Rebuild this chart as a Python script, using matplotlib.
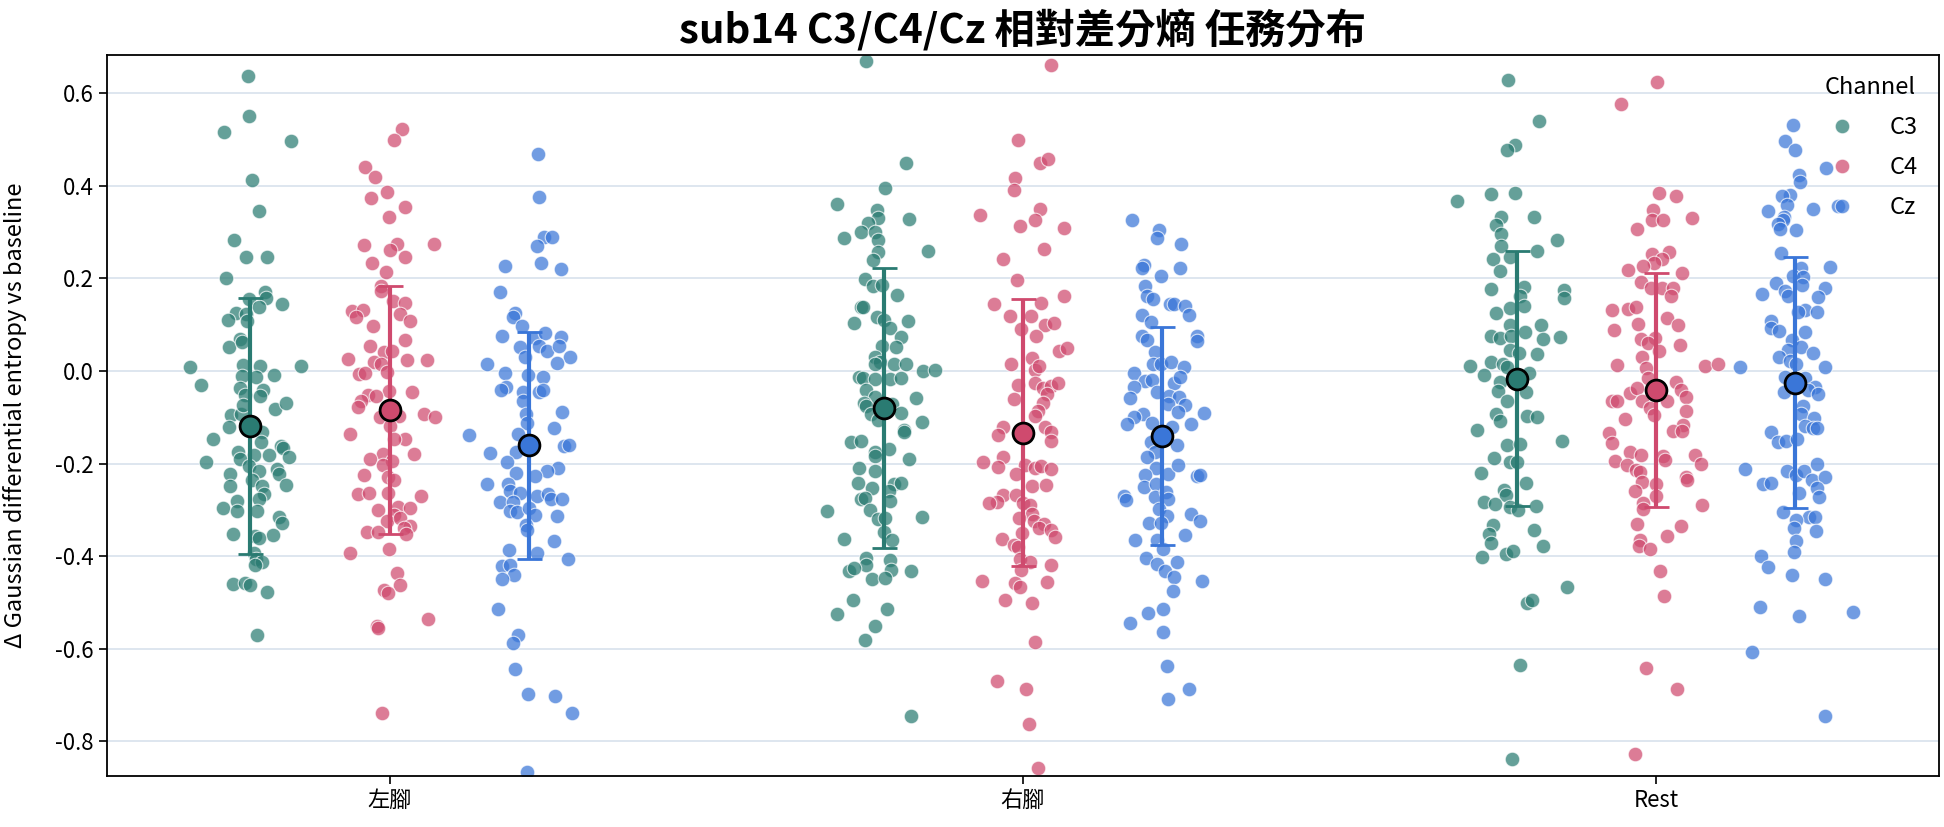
"""sub14 C3/C4/Cz relative differential entropy by task: strip + mean/SD."""

import matplotlib

matplotlib.use("Agg")
import matplotlib.pyplot as plt
from matplotlib.lines import Line2D
import numpy as np

plt.rcParams["font.family"] = ["Noto Sans CJK TC", "DejaVu Sans"]
plt.rcParams["axes.unicode_minus"] = False

CONDITIONS = ["左腳", "右腳", "Rest"]
CHANNELS = ["C3", "C4", "Cz"]
COLORS = {"C3": "#2a7b72", "C4": "#cf4a6e", "Cz": "#3a76d8"}
DODGE = {"C3": -0.22, "C4": 0.0, "Cz": 0.22}
YTICKS = [-0.8, -0.6, -0.4, -0.2, 0.0, 0.2, 0.4, 0.6]

# per-trial values (y) and strip jitter (dx, in category units)
c3_left_y = [0.637, 0.551, 0.515, 0.497, 0.413, 0.346, 0.282, 0.247, 0.245, 0.201,
             0.171, 0.145, 0.157, 0.156, 0.137, 0.126, 0.122, 0.110, 0.107, 0.068,
             0.052, 0.062, 0.009, 0.011, 0.013, 0.011, -0.031, -0.012, -0.014, -0.009,
             -0.036, -0.041, -0.052, -0.054, -0.082, -0.069, -0.096, -0.092, -0.074, -0.122,
             -0.147, -0.132, -0.153, -0.174, -0.162, -0.167, -0.197, -0.186, -0.182, -0.182,
             -0.190, -0.206, -0.216, -0.211, -0.222, -0.222, -0.236, -0.248, -0.246, -0.249,
             -0.265, -0.277, -0.281, -0.295, -0.302, -0.303, -0.316, -0.328, -0.352, -0.355,
             -0.357, -0.360, -0.393, -0.405, -0.413, -0.418, -0.460, -0.458, -0.462, -0.477,
             -0.571]
c3_left_dx = [-0.004, -0.002, -0.042, 0.064, 0.003, 0.014, -0.026, -0.007, 0.026, -0.038,
              0.023, 0.050, 0.024, -0.002, 0.013, -0.023, -0.007, -0.036, -0.005, -0.016,
              -0.034, -0.014, -0.095, 0.080, -0.011, 0.015, -0.078, -0.014, 0.009, 0.037,
              -0.017, 0.020, -0.008, 0.015, 0.039, 0.056, -0.030, -0.015, -0.012, -0.034,
              -0.059, 0.018, 0.016, -0.019, 0.048, 0.051, -0.070, 0.061, 0.005, 0.029,
              -0.017, -0.002, 0.013, 0.042, 0.045, -0.032, 0.002, -0.032, 0.056, 0.018,
              0.022, 0.014, -0.021, -0.044, -0.022, 0.010, 0.045, 0.050, -0.027, 0.035,
              0.007, 0.013, 0.005, 0.009, 0.018, 0.007, -0.027, -0.009, -0.001, 0.026,
              0.010]

c4_left_y = [0.523, 0.499, 0.441, 0.419, 0.386, 0.374, 0.353, 0.332, 0.271, 0.275,
             0.275, 0.262, 0.245, 0.232, 0.214, 0.184, 0.172, 0.150, 0.146, 0.129,
             0.132, 0.117, 0.122, 0.108, 0.096, 0.066, 0.054, 0.026, 0.041, 0.043,
             0.019, 0.016, 0.023, 0.023, -0.007, -0.004, -0.002, -0.046, -0.044, -0.052,
             -0.055, -0.066, -0.078, -0.092, -0.099, -0.099, -0.097, -0.119, -0.136, -0.147,
             -0.147, -0.179, -0.179, -0.190, -0.194, -0.204, -0.224, -0.229, -0.236, -0.265,
             -0.263, -0.263, -0.270, -0.300, -0.293, -0.295, -0.310, -0.325, -0.317, -0.335,
             -0.340, -0.347, -0.347, -0.352, -0.394, -0.385, -0.437, -0.463, -0.472, -0.480,
             -0.536, -0.550, -0.555, -0.739]
c4_left_dx = [0.019, 0.007, -0.039, -0.023, -0.004, -0.029, 0.024, -0.001, -0.041, 0.012,
              0.070, 0.001, 0.024, -0.028, -0.006, -0.014, -0.013, 0.005, 0.024, -0.059,
              -0.042, -0.053, 0.017, 0.032, -0.026, 0.024, -0.031, -0.066, -0.009, 0.003,
              -0.025, -0.014, 0.027, 0.059, -0.048, -0.039, -0.004, 0.035, -0.001, -0.035,
              -0.022, -0.045, -0.050, 0.054, 0.072, -0.016, 0.014, 0.000, -0.062, 0.024,
              0.007, 0.038, -0.011, -0.031, 0.003, -0.011, -0.041, -0.003, 0.007, -0.050,
              -0.033, -0.003, 0.049, -0.018, 0.013, 0.032, 0.007, -0.004, 0.016, 0.032,
              0.022, -0.036, -0.018, 0.026, -0.063, -0.001, 0.011, 0.017, -0.009, -0.003,
              0.061, -0.020, -0.018, -0.012]

cz_left_y = [0.469, 0.376, 0.290, 0.290, 0.269, 0.226, 0.234, 0.219, 0.170, 0.125,
             0.117, 0.097, 0.076, 0.071, 0.081, 0.054, 0.044, 0.073, 0.054, 0.051,
             0.029, 0.016, 0.029, 0.018, -0.004, -0.008, -0.014, -0.034, -0.041, -0.046,
             -0.046, -0.042, -0.066, -0.094, -0.112, -0.089, -0.124, -0.139, -0.136, -0.162,
             -0.159, -0.174, -0.177, -0.197, -0.209, -0.217, -0.221, -0.227, -0.245, -0.244,
             -0.260, -0.264, -0.271, -0.266, -0.276, -0.276, -0.283, -0.283, -0.302, -0.305,
             -0.295, -0.312, -0.313, -0.333, -0.343, -0.368, -0.386, -0.393, -0.405, -0.421,
             -0.420, -0.440, -0.450, -0.515, -0.571, -0.588, -0.643, -0.698, -0.701, -0.739,
             -0.866]
cz_left_dx = [0.014, 0.016, 0.024, 0.037, 0.012, -0.038, 0.019, 0.051, -0.046, -0.022,
              -0.025, -0.011, -0.043, 0.010, 0.025, 0.016, 0.028, 0.051, 0.047, -0.014,
              0.065, -0.066, -0.006, 0.045, -0.038, -0.002, 0.022, -0.036, -0.045, -0.009,
              0.016, 0.022, -0.009, -0.005, -0.003, 0.052, 0.040, -0.095, -0.017, 0.055,
              0.063, -0.020, -0.062, -0.035, 0.046, 0.028, -0.021, 0.009, -0.067, -0.033,
              -0.030, -0.014, 0.013, 0.030, 0.034, 0.052, -0.046, -0.025, -0.030, -0.019,
              0.000, 0.010, 0.044, -0.005, -0.003, 0.040, -0.032, 0.012, 0.062, -0.043,
              -0.030, -0.024, -0.043, -0.049, -0.017, -0.025, -0.022, -0.002, 0.041, 0.068,
              -0.003]

c3_right_y = [0.670, 0.450, 0.395, 0.361, 0.347, 0.331, 0.319, 0.327, 0.299, 0.299,
              0.288, 0.282, 0.257, 0.260, 0.239, 0.199, 0.183, 0.185, 0.165, 0.138,
              0.137, 0.107, 0.103, 0.117, 0.109, 0.093, 0.073, 0.054, 0.051, 0.031,
              0.019, 0.014, 0.016, 0.014, -0.001, 0.001, -0.014, -0.016, -0.017, -0.018,
              -0.016, -0.042, -0.056, -0.069, -0.076, -0.072, -0.059, -0.092, -0.090, -0.106,
              -0.111, -0.128, -0.132, -0.153, -0.151, -0.174, -0.169, -0.184, -0.190, -0.209,
              -0.215, -0.242, -0.253, -0.244, -0.241, -0.259, -0.277, -0.275, -0.281, -0.302,
              -0.300, -0.320, -0.318, -0.315, -0.363, -0.348, -0.365, -0.403, -0.408, -0.418,
              -0.432, -0.425, -0.430, -0.431, -0.450, -0.447, -0.495, -0.513, -0.525, -0.550,
              -0.581, -0.746]
c3_right_dx = [-0.027, 0.036, 0.003, -0.074, -0.011, -0.008, -0.025, 0.040, -0.035, -0.013,
               -0.062, -0.009, -0.008, 0.070, -0.017, -0.030, -0.016, -0.003, 0.022, -0.036,
               -0.033, 0.038, -0.047, -0.011, 0.000, 0.010, 0.027, -0.003, 0.019, -0.014,
               -0.005, -0.014, 0.016, 0.036, 0.063, 0.082, -0.039, -0.033, -0.013, 0.010,
               0.028, -0.028, -0.013, -0.031, -0.027, 0.013, 0.052, -0.020, 0.028, -0.008,
               0.060, 0.032, 0.033, -0.051, -0.035, -0.013, 0.008, -0.014, 0.040, -0.038,
               -0.014, -0.041, -0.019, 0.016, 0.028, 0.008, -0.035, -0.030, 0.010, -0.090,
               -0.022, -0.008, 0.003, 0.061, -0.063, 0.000, 0.013, -0.028, 0.010, -0.027,
               -0.055, -0.047, 0.011, 0.044, -0.019, 0.002, -0.049, 0.006, -0.073, -0.014,
               -0.030, 0.044]

c4_right_y = [0.661, 0.499, 0.448, 0.458, 0.417, 0.390, 0.336, 0.349, 0.325, 0.313,
              0.308, 0.263, 0.241, 0.197, 0.161, 0.144, 0.147, 0.119, 0.119, 0.091,
              0.100, 0.103, 0.076, 0.044, 0.049, 0.016, 0.028, 0.003, 0.011, -0.031,
              -0.027, -0.036, -0.032, -0.026, -0.061, -0.049, -0.069, -0.086, -0.097, -0.122,
              -0.139, -0.121, -0.132, -0.151, -0.186, -0.197, -0.207, -0.204, -0.209, -0.205,
              -0.211, -0.222, -0.249, -0.246, -0.268, -0.283, -0.285, -0.267, -0.286, -0.289,
              -0.308, -0.317, -0.325, -0.330, -0.340, -0.343, -0.358, -0.350, -0.362, -0.375,
              -0.380, -0.405, -0.412, -0.418, -0.430, -0.453, -0.457, -0.467, -0.455, -0.495,
              -0.502, -0.585, -0.669, -0.686, -0.763, -0.857]
c4_right_dx = [0.044, -0.007, 0.027, 0.039, -0.012, -0.014, -0.067, 0.027, 0.019, -0.004,
               0.065, 0.034, -0.031, -0.009, 0.065, -0.046, 0.029, -0.020, 0.013, -0.003,
               0.035, 0.049, 0.021, 0.057, 0.069, -0.018, 0.014, 0.019, 0.026, -0.007,
               0.019, 0.032, 0.045, 0.055, -0.014, 0.038, 0.032, 0.024, 0.020, -0.031,
               -0.040, 0.035, 0.045, 0.045, -0.031, -0.063, -0.039, 0.003, 0.019, 0.028,
               0.045, -0.011, 0.014, 0.037, -0.031, -0.041, -0.054, -0.011, 0.000, 0.012,
               0.014, -0.006, 0.018, 0.034, 0.026, 0.045, 0.051, -0.001, -0.033, -0.014,
               -0.007, -0.004, 0.012, 0.045, -0.003, -0.064, -0.012, -0.004, 0.038, -0.028,
               0.015, 0.020, -0.041, 0.005, 0.010, 0.024]

cz_right_y = [0.325, 0.305, 0.286, 0.275, 0.229, 0.222, 0.222, 0.205, 0.183, 0.161,
              0.155, 0.145, 0.145, 0.140, 0.120, 0.120, 0.105, 0.076, 0.066, 0.076,
              0.064, 0.040, 0.016, 0.016, 0.019, 0.009, -0.005, -0.022, -0.019, -0.027,
              -0.014, -0.034, -0.046, -0.054, -0.056, -0.059, -0.072, -0.074, -0.089, -0.090,
              -0.094, -0.099, -0.115, -0.112, -0.114, -0.121, -0.154, -0.176, -0.160, -0.186,
              -0.209, -0.222, -0.204, -0.227, -0.224, -0.224, -0.251, -0.244, -0.269, -0.279,
              -0.272, -0.262, -0.276, -0.299, -0.314, -0.309, -0.325, -0.329, -0.329, -0.365,
              -0.365, -0.355, -0.385, -0.403, -0.417, -0.431, -0.413, -0.445, -0.453, -0.475,
              -0.523, -0.515, -0.545, -0.563, -0.637, -0.686, -0.708]
cz_right_dx = [-0.047, -0.005, -0.008, 0.030, -0.028, -0.032, 0.028, -0.002, -0.027, -0.024,
               -0.014, 0.013, 0.019, 0.036, 0.043, -0.032, -0.017, -0.032, -0.024, 0.055,
               0.055, -0.011, -0.014, -0.002, 0.014, 0.035, -0.044, -0.027, -0.016, 0.018,
               0.028, -0.044, -0.008, 0.011, 0.027, -0.051, 0.009, 0.036, 0.025, 0.066,
               -0.030, -0.044, -0.055, -0.016, 0.046, 0.016, -0.017, -0.011, 0.023, -0.024,
               -0.009, 0.009, 0.025, 0.055, 0.060, -0.027, -0.028, -0.009, -0.060, -0.057,
               -0.011, 0.006, 0.009, -0.005, 0.008, 0.046, 0.060, -0.021, -0.002, -0.043,
               -0.008, 0.036, 0.002, -0.025, -0.008, 0.005, 0.024, 0.019, 0.063, 0.017,
               -0.022, 0.002, -0.051, 0.002, 0.008, 0.043, 0.009]

c3_rest_y = [0.628, 0.540, 0.487, 0.478, 0.367, 0.382, 0.385, 0.333, 0.333, 0.315,
             0.295, 0.282, 0.269, 0.260, 0.242, 0.245, 0.215, 0.177, 0.182, 0.175,
             0.157, 0.162, 0.140, 0.135, 0.125, 0.100, 0.099, 0.068, 0.073, 0.076,
             0.071, 0.076, 0.084, 0.046, 0.038, 0.036, 0.011, 0.020, 0.016, -0.008,
             0.009, -0.004, -0.024, -0.044, -0.066, -0.046, -0.092, -0.109, -0.097, -0.099,
             -0.127, -0.159, -0.157, -0.151, -0.187, -0.196, -0.197, -0.220, -0.242, -0.257,
             -0.267, -0.283, -0.288, -0.293, -0.300, -0.291, -0.333, -0.353, -0.372, -0.343,
             -0.377, -0.401, -0.395, -0.388, -0.466, -0.500, -0.494, -0.634, -0.838]
c3_rest_dx = [-0.014, 0.035, -0.003, -0.016, -0.095, -0.041, -0.003, -0.024, 0.028, -0.033,
              -0.025, 0.063, -0.025, 0.032, -0.038, -0.011, -0.027, -0.041, 0.011, 0.074,
              0.074, 0.005, 0.011, -0.011, -0.033, -0.011, 0.038, 0.041, 0.069, -0.041,
              -0.027, -0.009, 0.013, -0.011, 0.003, 0.032, -0.073, -0.041, -0.022, -0.051,
              -0.016, 0.019, -0.027, -0.030, -0.016, 0.015, -0.033, -0.027, 0.016, 0.032,
              -0.063, -0.016, 0.005, 0.071, -0.036, -0.011, 0.000, -0.057, 0.014, -0.020,
              -0.017, -0.052, -0.035, -0.011, 0.002, 0.031, -0.038, -0.044, -0.040, 0.027,
              0.041, -0.054, -0.017, -0.005, 0.079, 0.016, 0.024, 0.006, -0.008]

c4_rest_y = [0.624, 0.577, 0.385, 0.378, 0.347, 0.326, 0.325, 0.331, 0.307, 0.257,
             0.252, 0.241, 0.232, 0.217, 0.227, 0.212, 0.193, 0.180, 0.180, 0.178,
             0.161, 0.131, 0.133, 0.137, 0.101, 0.114, 0.099, 0.089, 0.069, 0.072,
             0.057, 0.061, 0.031, 0.043, 0.013, 0.006, 0.011, 0.016, -0.016, -0.048,
             -0.036, -0.024, -0.042, -0.064, -0.064, -0.066, -0.064, -0.057, -0.079, -0.086,
             -0.096, -0.104, -0.117, -0.130, -0.129, -0.134, -0.155, -0.174, -0.182, -0.183,
             -0.192, -0.181, -0.194, -0.204, -0.214, -0.219, -0.200, -0.230, -0.236, -0.239,
             -0.245, -0.260, -0.270, -0.286, -0.299, -0.290, -0.335, -0.330, -0.356, -0.365,
             -0.377, -0.385, -0.433, -0.485, -0.641, -0.686, -0.828]
c4_rest_dx = [0.002, -0.055, 0.005, 0.032, -0.005, -0.006, 0.011, 0.057, -0.030, 0.020,
              -0.006, 0.009, -0.003, -0.044, -0.020, 0.041, -0.023, -0.008, 0.009, 0.027,
              0.024, -0.070, -0.044, -0.032, -0.028, 0.018, 0.035, -0.067, -0.023, -0.001,
              0.038, -0.013, -0.022, 0.005, -0.062, -0.016, 0.077, 0.098, -0.013, -0.041,
              -0.030, 0.032, 0.040, -0.070, -0.062, -0.022, 0.018, 0.047, -0.009, 0.047,
              -0.003, -0.049, 0.043, 0.027, 0.041, -0.074, -0.070, -0.041, -0.023, 0.011,
              0.014, 0.061, -0.064, -0.046, -0.032, -0.025, 0.071, 0.047, 0.049, -0.022,
              0.000, -0.033, 0.000, -0.021, -0.020, 0.073, 0.040, -0.030, 0.017, -0.025,
              -0.027, -0.009, 0.006, 0.013, -0.016, 0.033, -0.033]

cz_rest_y = [0.530, 0.497, 0.478, 0.438, 0.422, 0.407, 0.380, 0.377, 0.359, 0.357,
             0.345, 0.350, 0.332, 0.325, 0.317, 0.307, 0.305, 0.255, 0.224, 0.222,
             0.205, 0.202, 0.189, 0.185, 0.180, 0.167, 0.172, 0.162, 0.159, 0.132,
             0.127, 0.127, 0.107, 0.092, 0.087, 0.083, 0.066, 0.051, 0.046, 0.038,
             0.029, 0.021, 0.016, 0.008, 0.008, -0.014, -0.016, -0.034, -0.046, -0.042,
             -0.049, -0.076, -0.092, -0.101, -0.119, -0.124, -0.124, -0.132, -0.154, -0.151,
             -0.146, -0.212, -0.216, -0.224, -0.217, -0.202, -0.236, -0.229, -0.244, -0.242,
             -0.252, -0.264, -0.273, -0.305, -0.315, -0.315, -0.321, -0.340, -0.345, -0.367,
             -0.391, -0.399, -0.423, -0.440, -0.449, -0.509, -0.529, -0.520, -0.606, -0.744]
cz_rest_dx = [-0.003, -0.016, 0.000, 0.049, 0.006, 0.007, -0.009, -0.021, -0.013, 0.068,
              -0.043, 0.028, -0.017, -0.019, -0.027, -0.024, 0.002, -0.022, 0.055, 0.009,
              -0.003, 0.013, -0.030, 0.011, 0.047, -0.052, -0.016, -0.011, 0.036, 0.016,
              0.035, 0.004, -0.039, -0.038, -0.025, 0.016, -0.005, 0.009, -0.011, 0.028,
              -0.025, -0.009, 0.002, -0.087, 0.047, -0.016, 0.016, 0.032, -0.017, 0.020,
              0.036, 0.013, 0.009, 0.030, 0.016, 0.028, 0.035, -0.039, -0.028, -0.014,
              0.003, -0.079, -0.013, 0.002, 0.014, 0.035, 0.026, 0.047, -0.051, -0.039,
              0.035, 0.006, 0.038, -0.019, 0.022, 0.032, 0.002, -0.002, 0.033, 0.002,
              -0.002, -0.054, -0.043, -0.005, 0.047, -0.055, 0.006, 0.091, -0.068, 0.047]

mean_c3 = [-0.119, -0.080, -0.017]
mean_c4 = [-0.084, -0.133, -0.041]
mean_cz = [-0.160, -0.141, -0.026]
sd_c3 = [0.276, 0.302, 0.275]
sd_c4 = [0.268, 0.288, 0.253]
sd_cz = [0.245, 0.235, 0.271]

POINTS = {
    ("左腳", "C3"): (c3_left_y, c3_left_dx),
    ("左腳", "C4"): (c4_left_y, c4_left_dx),
    ("左腳", "Cz"): (cz_left_y, cz_left_dx),
    ("右腳", "C3"): (c3_right_y, c3_right_dx),
    ("右腳", "C4"): (c4_right_y, c4_right_dx),
    ("右腳", "Cz"): (cz_right_y, cz_right_dx),
    ("Rest", "C3"): (c3_rest_y, c3_rest_dx),
    ("Rest", "C4"): (c4_rest_y, c4_rest_dx),
    ("Rest", "Cz"): (cz_rest_y, cz_rest_dx),
}
MEANS = {"C3": mean_c3, "C4": mean_c4, "Cz": mean_cz}
SDS = {"C3": sd_c3, "C4": sd_c4, "Cz": sd_cz}

fig = plt.figure(figsize=(19.44, 8.27), dpi=100)
ax = fig.add_axes([0.0549, 0.0617, 0.9425, 0.8723])

for ci, cond in enumerate(CONDITIONS):
    for ch in CHANNELS:
        y, dx = POINTS[(cond, ch)]
        x = ci + DODGE[ch] + np.asarray(dx)
        ax.scatter(x, y, s=110, color=COLORS[ch], alpha=0.72, edgecolors="white",
                   linewidths=0.8, zorder=2)
        xm = ci + DODGE[ch]
        ax.errorbar(xm, MEANS[ch][ci], yerr=SDS[ch][ci], color=COLORS[ch], lw=3,
                    capsize=9, capthick=2, zorder=3)
        ax.plot(xm, MEANS[ch][ci], "o", ms=15, mfc=COLORS[ch], mec="black",
                mew=2, zorder=4)

ax.set_xlim(-0.447, 2.447)
ax.set_ylim(-0.8745, 0.683)
ax.set_xticks(range(len(CONDITIONS)))
ax.set_xticklabels(CONDITIONS, fontsize=16)
ax.set_yticks(YTICKS)
ax.set_yticklabels([f"{v:.1f}" for v in YTICKS], fontsize=16)
ax.tick_params(length=6, width=1.2)
ax.yaxis.grid(True, color="#dbe4ee", lw=1.3, zorder=0)
ax.set_axisbelow(True)
for sp in ax.spines.values():
    sp.set_linewidth(1.3)
    sp.set_color("black")

ax.set_ylabel("Δ Gaussian differential entropy vs baseline", fontsize=17, labelpad=20)
ax.set_title("sub14 C3/C4/Cz 相對差分熵 任務分布", fontsize=29, fontweight="bold", pad=8)

handles = [Line2D([], [], ls="", marker="o", ms=10.5, mfc=COLORS[ch], mec="white",
                  mew=0.8, alpha=0.72) for ch in CHANNELS]
ax.legend(handles, CHANNELS, title="Channel", loc="upper right", frameon=False,
          fontsize=17, title_fontsize=17, handlelength=1.6, handletextpad=1.2,
          labelspacing=0.72, borderaxespad=0.5)

fig.savefig("out.png", dpi=100)
plt.close(fig)
